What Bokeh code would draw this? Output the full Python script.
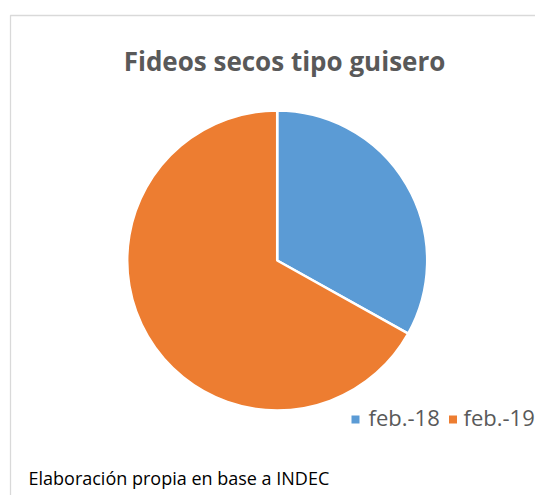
import math
from bokeh.plotting import figure
from bokeh.models import ColumnDataSource, Range1d
from bokeh.core.properties import value
from bokeh.embed import file_html
from bokeh.resources import INLINE

# ---- data ----
categories = ["feb.-18", "feb.-19"]
values = [33.1, 66.9]
colors = ["#5B9BD5", "#ED7D31"]
title_text = "Fideos secos tipo guisero"
source_text = "Elaboración propia en base a INDEC"

W, H = 535, 495
p = figure(width=W, height=H, output_backend="svg", toolbar_location=None,
           x_range=Range1d(0, W), y_range=Range1d(0, H), min_border=0)
p.axis.visible = False
p.grid.visible = False
p.outline_line_color = None
p.background_fill_color = "white"
p.border_fill_color = "white"

def X(px):
    return px
def Y(py):
    return H - py

# chart border
p.line(x=[X(10), X(10), X(540)], y=[Y(500), Y(15), Y(15)], line_color="#D9D9D9", line_width=1.3)

# pie
total = sum(values)
starts, ends = [], []
a = math.pi / 2
for v in values:
    starts.append(a)
    a = a - v / total * 2 * math.pi
    ends.append(a)
pie = ColumnDataSource(dict(cat=categories, val=values, color=colors, start=starts, end=ends))
p.wedge(x=X(276.7), y=Y(260), radius=150, radius_units="screen",
        start_angle="start", end_angle="end", direction="clock",
        fill_color="color", line_color="white", line_width=2.5, source=pie)

# title
p.text(x=[X(284)], y=[Y(60)], text=[title_text], text_font=value("Open Sans"),
       text_font_size="26px", text_font_style="bold", text_color="#595959",
       text_align="center", text_baseline="alphabetic")

# legend
leg = ColumnDataSource(dict(cat=categories, color=colors,
                            sx=[X(355), X(452.5)], tx=[X(368), X(463)],
                            sy=[Y(419), Y(419)], ty=[Y(416), Y(416)]))
p.scatter(x="sx", y="sy", marker="square", size=8, fill_color="color", line_color=None, source=leg)
p.text(x="tx", y="ty", text="cat", text_font=value("Open Sans"), text_font_size="22px",
       text_color="#595959", text_baseline="alphabetic", source=leg)

# source note
p.text(x=[X(28)], y=[Y(477)], text=[source_text], text_font=value("Open Sans"),
       text_font_size="18px", text_color="#000000", text_baseline="alphabetic")

open("out.html", "w").write(file_html(p, INLINE))
